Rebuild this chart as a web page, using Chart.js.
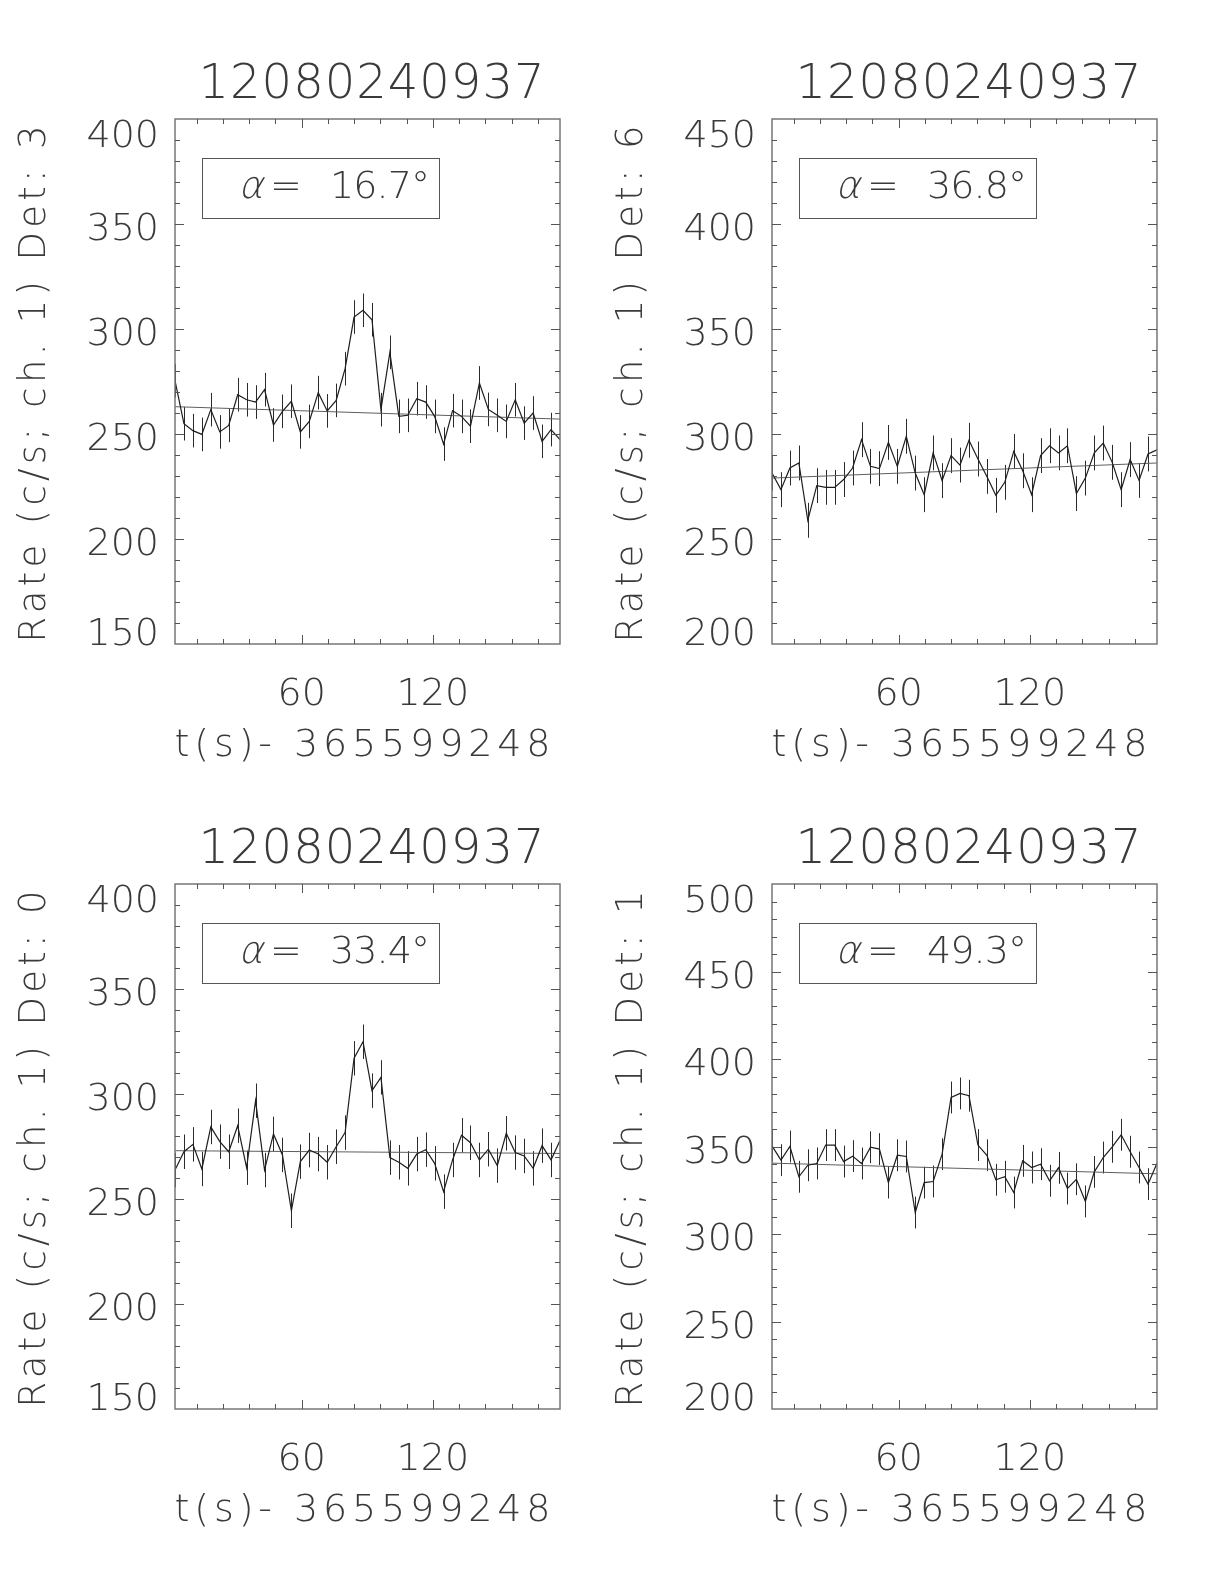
<!DOCTYPE html>
<html>
<head>
<meta charset="utf-8">
<script src="https://cdn.jsdelivr.net/npm/chart.js@4.4.1/dist/chart.umd.min.js"></script>
<style>
html, body { margin: 0; padding: 0; background: #fff; }
body { width: 1224px; height: 1584px; position: relative; overflow: hidden; }
.panel { position: absolute; width: 612px; height: 792px; }
</style>
</head>
<body>
<div class="panel" style="left:0px;top:0px"><canvas id="det3" width="612" height="792"></canvas></div>
<div class="panel" style="left:597px;top:0px"><canvas id="det6" width="612" height="792"></canvas></div>
<div class="panel" style="left:0px;top:765px"><canvas id="det0" width="612" height="792"></canvas></div>
<div class="panel" style="left:597px;top:765px"><canvas id="det1" width="612" height="792"></canvas></div>
<script>
// bin centres, seconds after 365599248
const times = [2.05, 6.14, 10.24, 14.34, 18.43, 22.53, 26.62, 30.72, 34.82, 38.91, 43.01,
  47.10, 51.20, 55.30, 59.39, 63.49, 67.58, 71.68, 75.78, 79.87, 83.97, 88.06, 92.16,
  96.26, 100.35, 104.45, 108.54, 112.64, 116.74, 120.83, 124.93, 129.02, 133.12, 137.22,
  141.31, 145.41, 149.50, 153.60, 157.70, 161.79, 165.89, 169.98, 174.08, 178.18];

const rateDet3 = [275.4, 254.9, 251.6, 249.8, 261.6, 251.0, 254.1, 268.7, 266.3, 265.2, 271.1,
  254.3, 260.8, 265.6, 251.0, 256.0, 269.7, 261.0, 266.0, 281.1, 305.7, 308.9, 304.4,
  261.6, 288.9, 258.4, 258.9, 266.8, 265.2, 258.4, 245.2, 261.1, 258.4, 253.7,
  274.3, 261.7, 258.9, 256.0, 266.3, 255.2, 260.0, 246.5, 252.1, 247.3];
const rateDet6 = [281.4, 273.5, 283.8, 286.2, 258.9, 275.4, 274.6, 274.6, 278.3, 283.8, 297.3,
  284.6, 283.5, 296.0, 284.6, 298.9, 281.4, 271.1, 291.0, 277.8, 289.7, 285.2, 297.0,
  288.1, 279.8, 270.8, 277.0, 291.7, 282.5, 271.1, 289.7, 294.4, 291.0, 294.4,
  271.6, 279.0, 291.0, 295.7, 286.5, 273.5, 287.8, 277.9, 290.5, 292.5];
const rateDet0 = [263.8, 272.5, 276.0, 264.3, 284.3, 277.3, 272.5, 284.9, 264.9, 296.8, 263.8,
  281.0, 271.0, 244.4, 267.8, 273.3, 271.4, 267.5, 274.9, 281.6, 317.0, 324.9, 301.6,
  307.9, 269.7, 267.5, 264.6, 271.4, 273.5, 267.0, 253.5, 268.6, 280.3, 276.8,
  268.6, 273.7, 265.9, 281.3, 272.1, 270.5, 264.6, 275.4, 268.6, 277.8];
const rateDet1 = [350.4, 342.2, 350.0, 332.7, 339.3, 340.3, 350.8, 350.8, 341.4, 344.5, 340.3,
  349.6, 348.5, 329.4, 345.0, 344.3, 312.3, 329.4, 330.0, 345.6, 378.0, 380.3, 379.0,
  350.8, 345.0, 331.0, 332.7, 323.7, 341.8, 338.0, 339.9, 330.4, 337.8, 326.0,
  331.3, 318.6, 335.5, 343.7, 349.8, 356.7, 347.0, 338.0, 328.5, 340.5];

// background fit, value at first and last bin
const fitDet3 = [263.0, 257.1];
const fitDet6 = [279.0, 286.2];
const fitDet0 = [273.0, 271.7];
const fitDet1 = [340.5, 334.4];

// typical 1-sigma error bar per detector
const errDet = { 3: 8.0, 6: 8.3, 0: 8.2, 1: 9.1 };

const yTicksA = [150, 200, 250, 300, 350, 400];
const yTicksB = [200, 250, 300, 350, 400, 450];
const yTicksC = [200, 250, 300, 350, 400, 450, 500];
const xTickLabels = [60, 120];

const burstName = '12080240937';
const xTitle = 't(s)- 365599248';

const FONT = "'DejaVu Sans Light', 'DejaVu Sans ExtraLight', 'DejaVu Sans', sans-serif";
const INK = '#3a3a3a';

function fitText(ctx, str, x, y, size, width, align, italic) {
  ctx.font = (italic ? 'italic ' : '') + '200 ' + size + 'px ' + FONT;
  const hasLs = 'letterSpacing' in ctx;
  if (hasLs) ctx.letterSpacing = '0px';
  const nat = ctx.measureText(str).width;
  const n = Array.from(str).length;
  let ls = 0;
  if (width && n > 1) ls = (width - nat) / (n - 1);
  const w = width || nat;
  let x0 = x;
  if (align === 'center') x0 = x - w / 2;
  if (align === 'right') x0 = x - w;
  ctx.textAlign = 'left';
  ctx.textBaseline = 'alphabetic';
  if (hasLs) {
    ctx.letterSpacing = ls + 'px';
    ctx.fillText(str, x0, y);
    ctx.letterSpacing = '0px';
  } else {
    ctx.save();
    ctx.translate(x0, y);
    ctx.scale(w / nat, 1);
    ctx.fillText(str, 0, 0);
    ctx.restore();
  }
}

function idlFrame(cfg) {
  return {
    id: 'idlFrame',
    beforeDatasetsDraw(chart) {
      const ctx = chart.ctx, xs = chart.scales.x, ys = chart.scales.y, a = chart.chartArea;
      ctx.save();
      ctx.beginPath();
      ctx.rect(a.left, a.top, a.right - a.left, a.bottom - a.top);
      ctx.clip();
      ctx.strokeStyle = '#2a2a2a';
      ctx.lineWidth = 1;
      ctx.beginPath();
      cfg.rates.forEach((v, i) => {
        const px = Math.round(xs.getPixelForValue(times[i])) + 0.5;
        ctx.moveTo(px, ys.getPixelForValue(v - cfg.err));
        ctx.lineTo(px, ys.getPixelForValue(v + cfg.err));
      });
      ctx.stroke();
      ctx.restore();
    },
    afterDraw(chart) {
      const ctx = chart.ctx, xs = chart.scales.x, ys = chart.scales.y, a = chart.chartArea;
      ctx.save();
      // axis box
      ctx.strokeStyle = '#777';
      ctx.lineWidth = 1.5;
      ctx.strokeRect(a.left, a.top, a.right - a.left, a.bottom - a.top);
      // y ticks: minor every 10, major every 50
      ctx.lineWidth = 1;
      ctx.strokeStyle = '#555';
      ctx.beginPath();
      for (let v = ys.min + 10; v < ys.max; v += 10) {
        const py = Math.round(ys.getPixelForValue(v)) + 0.5;
        const len = (v % 50 === 0) ? 9 : 5;
        ctx.moveTo(a.left, py); ctx.lineTo(a.left + len, py);
        ctx.moveTo(a.right, py); ctx.lineTo(a.right - len, py);
      }
      // x ticks: minor every 12 s, major every 60 s
      for (let t = 12; t < xs.max; t += 12) {
        if (t <= xs.min) continue;
        const px = Math.round(xs.getPixelForValue(t)) + 0.5;
        const len = (t % 60 === 0) ? 9 : 5;
        ctx.moveTo(px, a.bottom); ctx.lineTo(px, a.bottom - len);
        ctx.moveTo(px, a.top); ctx.lineTo(px, a.top + len);
      }
      ctx.stroke();

      ctx.fillStyle = INK;
      // y tick labels (end labels pulled inside like the original)
      const yt = cfg.yTicks;
      yt.forEach((v, i) => {
        let cy = ys.getPixelForValue(v) + 2;
        if (i === 0) cy = ys.getPixelForValue(v) - 13;
        if (i === yt.length - 1) cy = ys.getPixelForValue(v) + 14;
        fitText(ctx, String(v), a.left - 16, cy + 14, 38, 0, 'right');
      });
      // x tick labels
      xTickLabels.forEach(t => {
        fitText(ctx, String(t), xs.getPixelForValue(t), a.bottom + 61, 38, 0, 'center');
      });
      const cx = (a.left + a.right) / 2;
      // x title
      fitText(ctx, xTitle, cx - 5, a.bottom + 112, 38, 376, 'center');
      // plot title
      fitText(ctx, burstName, cx + 4, a.top - 21, 48, 346, 'center');
      // y title (rotated)
      ctx.save();
      ctx.translate(a.left - 130, (a.top + a.bottom) / 2 + 2.5);
      ctx.rotate(-Math.PI / 2);
      fitText(ctx, 'Rate (c/s; ch. 1) Det: ' + cfg.det, 0, 0, 37, 517, 'center');
      ctx.restore();
      // angle box
      ctx.strokeStyle = '#555';
      ctx.lineWidth = 1;
      ctx.strokeRect(Math.round(a.left + 26.7) + 0.5, Math.round(a.top + 39) + 0.5, 237, 60);
      const by = a.top + 79;
      fitText(ctx, '\u03b1', a.left + 63, by, 38, 0, 'left', true);
      fitText(ctx, '=', a.left + 95, by, 38, 0, 'left');
      fitText(ctx, cfg.angle + '\u00b0', a.left + 155, by, 38, 100, 'left');
      ctx.restore();
    }
  };
}

function makePanel(id, det, rates, fit, yMin, yMax, yTicks, angle) {
  const pts = rates.map((v, i) => ({ x: times[i], y: v }));
  const fitPts = [{ x: times[0], y: fit[0] }, { x: times[times.length - 1], y: fit[1] }];
  const cfg = { det, rates, err: errDet[det], yTicks, angle };
  return new Chart(document.getElementById(id).getContext('2d'), {
    type: 'line',
    data: {
      datasets: [
        { data: pts, borderColor: '#1e1e1e', borderWidth: 1.2, pointRadius: 0, tension: 0 },
        { data: fitPts, borderColor: '#5e5e5e', borderWidth: 1, pointRadius: 0, tension: 0 }
      ]
    },
    options: {
      responsive: false,
      animation: false,
      events: [],
      layout: { padding: { left: 175, top: 119, right: 52, bottom: 148 } },
      plugins: { legend: { display: false }, tooltip: { enabled: false } },
      scales: {
        x: { type: 'linear', display: false, min: times[0], max: times[times.length - 1] },
        y: { type: 'linear', display: false, min: yMin, max: yMax }
      }
    },
    plugins: [idlFrame(cfg)]
  });
}

makePanel('det3', 3, rateDet3, fitDet3, 150, 400, yTicksA, '16.7');
makePanel('det6', 6, rateDet6, fitDet6, 200, 450, yTicksB, '36.8');
makePanel('det0', 0, rateDet0, fitDet0, 150, 400, yTicksA, '33.4');
makePanel('det1', 1, rateDet1, fitDet1, 200, 500, yTicksC, '49.3');
</script>
</body>
</html>
